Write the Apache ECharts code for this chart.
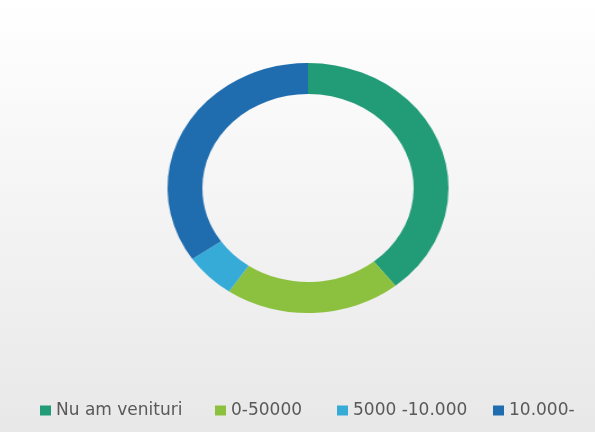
<!DOCTYPE html>
<html>
<head>
<meta charset="utf-8">
<script src="https://cdn.jsdelivr.net/npm/echarts@6/dist/echarts.min.js"></script>
<style>
  html, body { margin: 0; padding: 0; }
  #wrap { position: relative; width: 595px; height: 432px; overflow: hidden; }
  #back, #ring { position: absolute; left: 0; top: 0; width: 595px; height: 432px; }
  /* the original ring is a bit wider than tall */
  #ring { transform-origin: 308px 188px; transform: scaleX(1.124); }
</style>
</head>
<body>
<div id="wrap">
  <div id="back"></div>
  <div id="ring"></div>
</div>
<script>
var categories = ["Nu am venituri", "0-50000", "5000 -10.000", "10.000-"];
var values = [39.3, 20.2, 5.9, 34.6];
var colors = ["#229b77", "#8cc13f", "#37abd7", "#1f6cae"];

var pieData = categories.map(function (name, i) {
  return { name: name, value: values[i] };
});

// one legend per item so each sits where it does in the original
var legendLeft = [40, 215, 337, 493];
var legends = categories.map(function (name, i) {
  return {
    data: [name],
    left: legendLeft[i],
    top: 402,
    padding: 0,
    icon: "rect",
    itemWidth: 11,
    itemHeight: 10,
    selectedMode: false,
    textStyle: {
      color: "#595959",
      fontSize: 17,
      fontFamily: "DejaVu Sans"
    }
  };
});

// background + legend
var backChart = echarts.init(document.getElementById("back"));
backChart.setOption({
  animation: false,
  backgroundColor: new echarts.graphic.LinearGradient(0, 0, 0, 1, [
    { offset: 0, color: "#ffffff" },
    { offset: 1, color: "#e8e8e8" }
  ]),
  color: colors,
  legend: legends,
  series: [{
    type: "pie",
    radius: [0, 0],
    silent: true,
    label: { show: false },
    data: pieData
  }]
});

// the donut itself
var ringChart = echarts.init(document.getElementById("ring"));
ringChart.setOption({
  animation: false,
  color: colors,
  series: [{
    type: "pie",
    center: [308, 188],
    radius: [94, 125],
    startAngle: 90,
    clockwise: true,
    label: { show: false },
    labelLine: { show: false },
    data: pieData
  }]
});
</script>
</body>
</html>
